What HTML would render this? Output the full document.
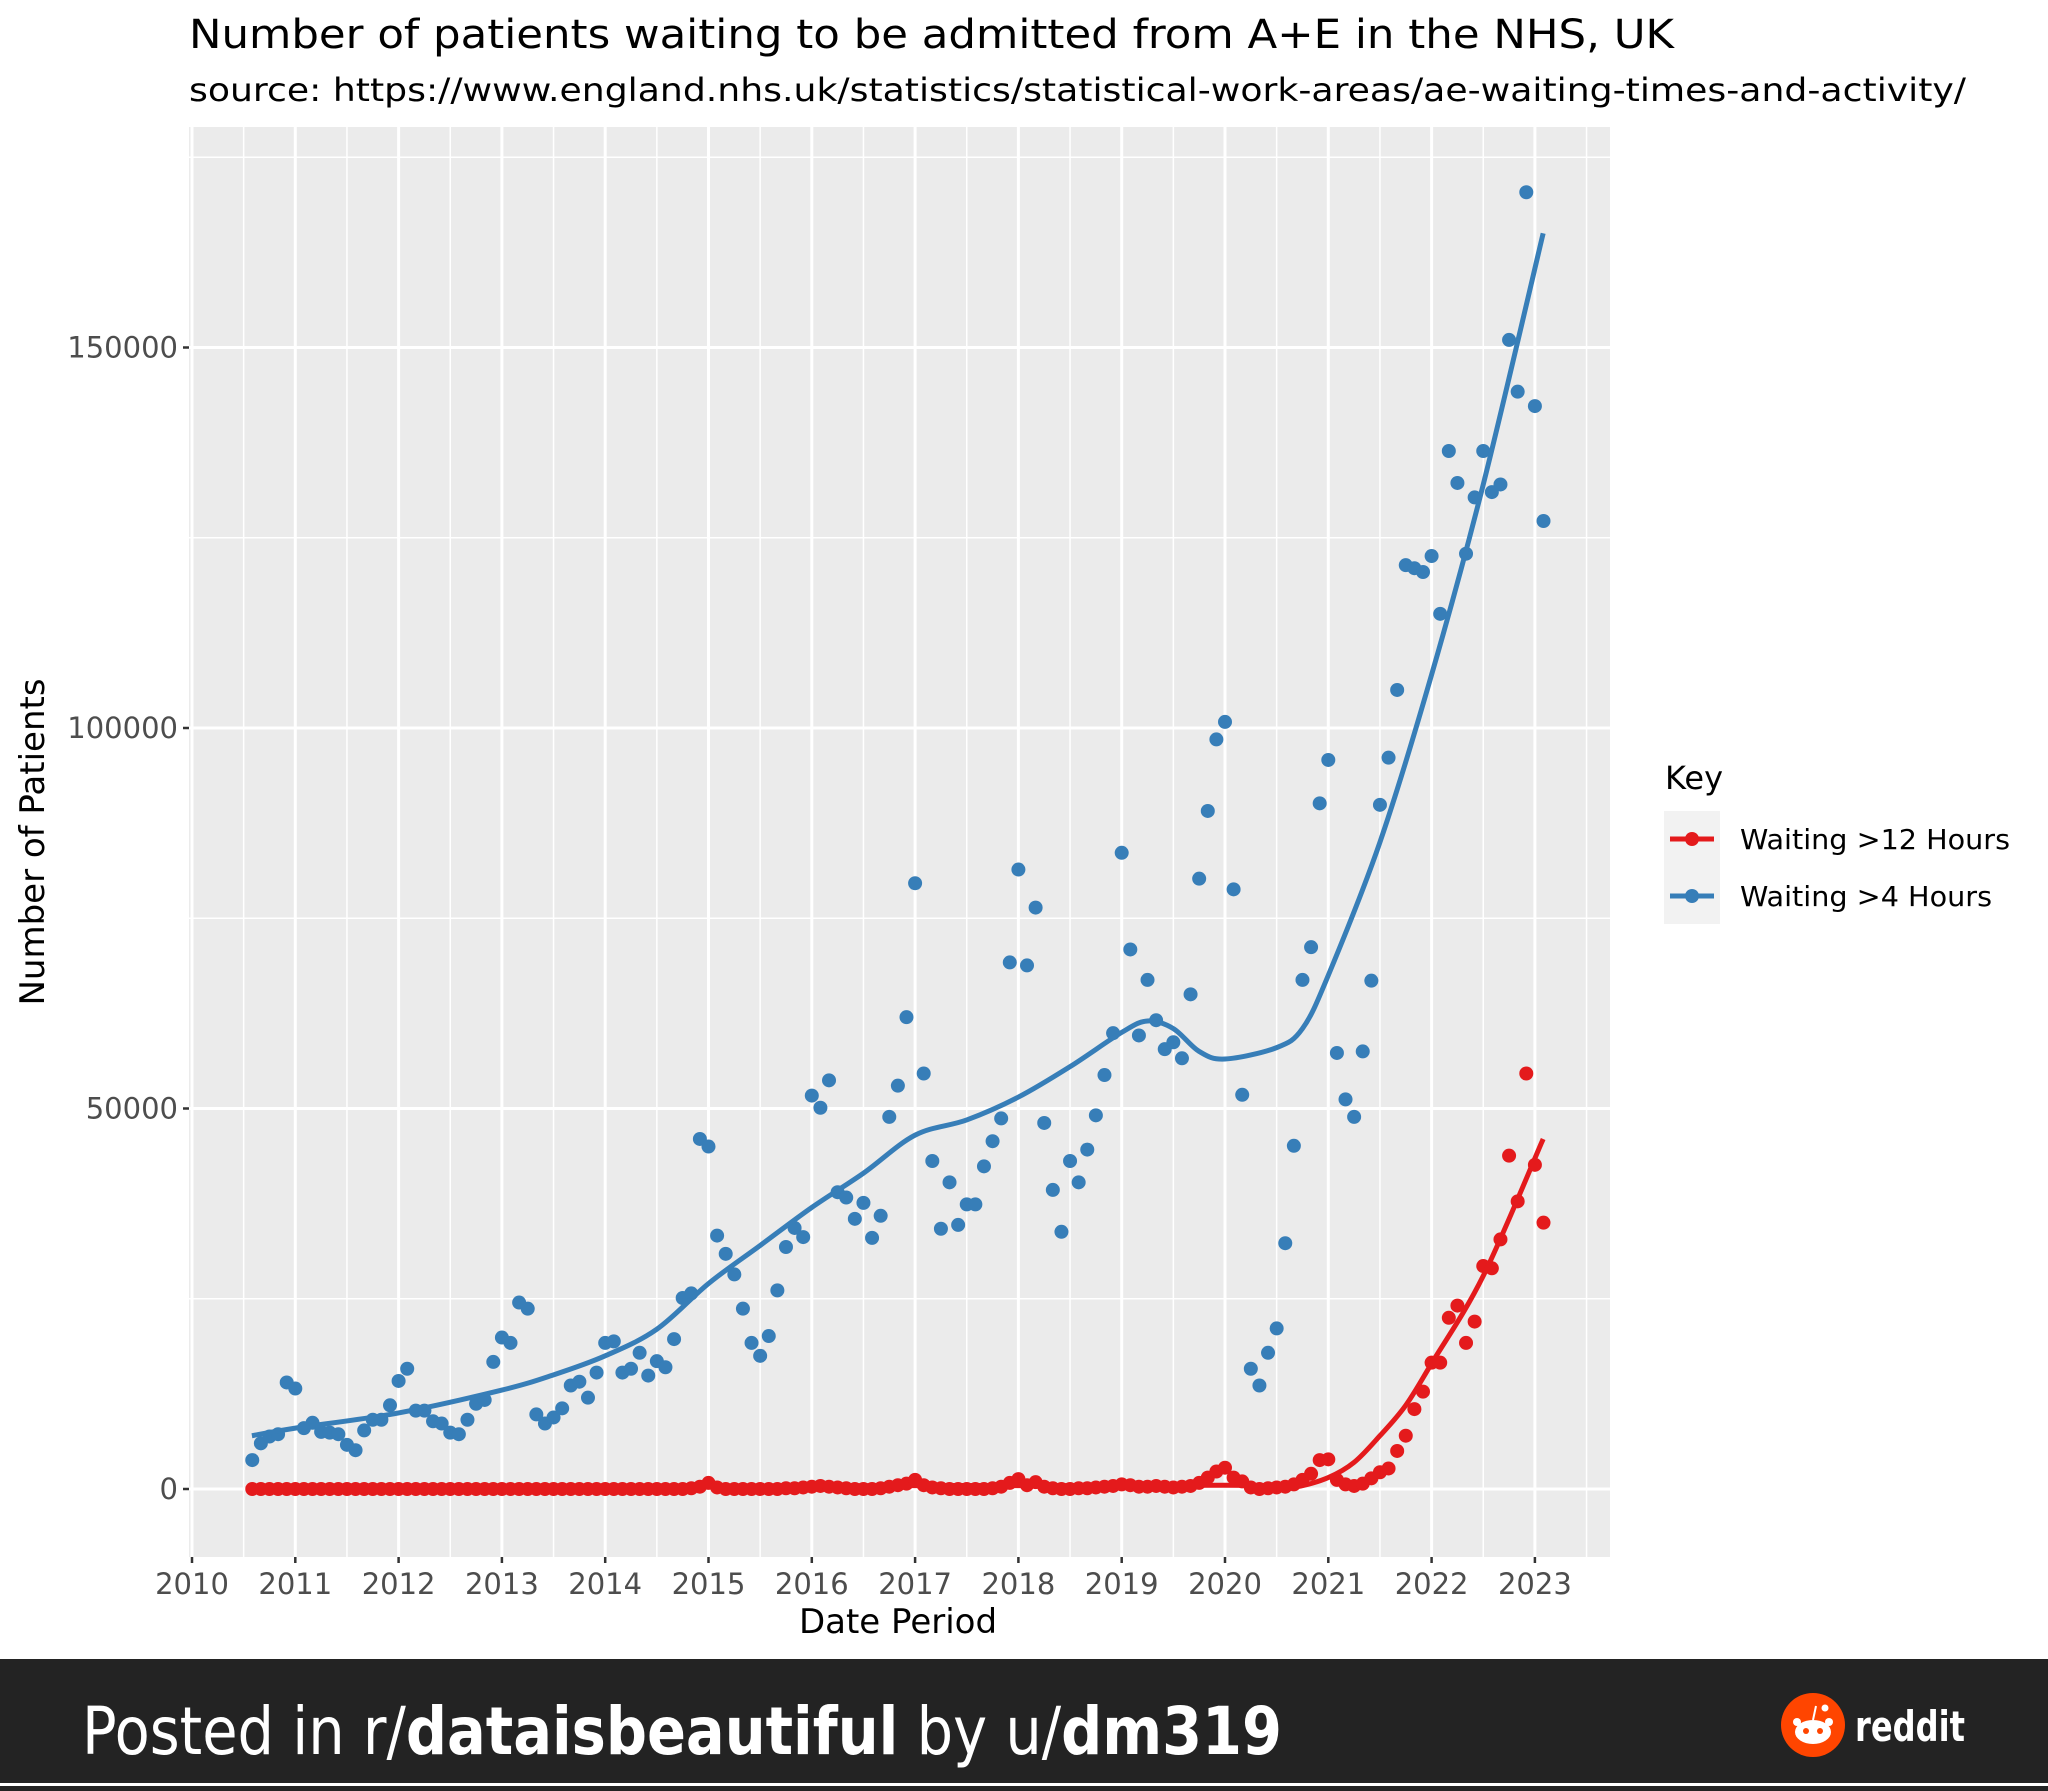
<!DOCTYPE html>
<html><head><meta charset="utf-8"><style>
html,body{margin:0;padding:0;background:#fff;}
svg{display:block;}
text{font-family:"DejaVu Sans","Liberation Sans",sans-serif;}
</style></head><body>
<svg id="chart" width="2048" height="1791" viewBox="0 0 2048 1791" xmlns="http://www.w3.org/2000/svg">
<rect x="0" y="0" width="2048" height="1791" fill="#ffffff"/>
<text x="189" y="48" font-size="40" fill="#000" textLength="1485" lengthAdjust="spacingAndGlyphs">Number of patients waiting to be admitted from A+E in the NHS, UK</text>
<text x="189" y="101" font-size="32" fill="#000" textLength="1777" lengthAdjust="spacingAndGlyphs">source: https://www.england.nhs.uk/statistics/statistical-work-areas/ae-waiting-times-and-activity/</text>
<rect x="189" y="127" width="1421" height="1430" fill="#ebebeb"/>
<g id="grid"></g>
<g id="axes"></g>
<g id="series"></g>
<text x="898" y="1633" font-size="34" text-anchor="middle" fill="#000">Date Period</text>
<text x="0" y="0" font-size="34" text-anchor="middle" fill="#000" transform="translate(44,842) rotate(-90)">Number of Patients</text>
<g>
<text x="1665" y="789" font-size="32" fill="#000">Key</text>
<rect x="1664" y="811" width="56" height="113" fill="#f2f2f2"/>
<g>
<line x1="1670" y1="839" x2="1714" y2="839" stroke="#e41a1c" stroke-width="5"/>
<circle cx="1692" cy="839" r="7" fill="#e41a1c"/>
<text x="1740" y="849" font-size="28" fill="#000" textLength="270" lengthAdjust="spacingAndGlyphs">Waiting &gt;12 Hours</text>
</g>
<g>
<line x1="1670" y1="896" x2="1714" y2="896" stroke="#377eb8" stroke-width="5"/>
<circle cx="1692" cy="896" r="7" fill="#377eb8"/>
<text x="1740" y="906" font-size="28" fill="#000" textLength="252" lengthAdjust="spacingAndGlyphs">Waiting &gt;4 Hours</text>
</g>
</g>
<g>
<rect x="0" y="1659" width="2048" height="132" fill="#232323"/>
<rect x="0" y="1783" width="2048" height="3" fill="#ffffff"/>
<text x="82" y="1754" font-size="66" fill="#fff" font-family="Liberation Sans, sans-serif" textLength="1200" lengthAdjust="spacingAndGlyphs">Posted in r/<tspan font-weight="bold">dataisbeautiful</tspan> by u/<tspan font-weight="bold">dm319</tspan></text>
<g>
<circle cx="1813" cy="1725" r="32" fill="#ff4500"/>
<ellipse cx="1813" cy="1732" rx="18" ry="12" fill="#fff"/>
<circle cx="1797" cy="1722" r="4" fill="#fff"/>
<circle cx="1829" cy="1722" r="4" fill="#fff"/>
<line x1="1813" y1="1720" x2="1816" y2="1706" stroke="#fff" stroke-width="2"/>
<circle cx="1825" cy="1708" r="3.5" fill="#fff"/>
<circle cx="1806" cy="1731" r="3" fill="#ff4500"/>
<circle cx="1820" cy="1731" r="3" fill="#ff4500"/>
<text x="1855" y="1741" font-size="42" font-weight="bold" fill="#fff" font-family="Liberation Sans, sans-serif" textLength="110" lengthAdjust="spacingAndGlyphs">reddit</text>
</g>
</g>
</svg>
<script>
// ---- data ----
const startYear = 2010, startMonth = 8; // first observation Aug 2010
const waiting4h = [3800,6000,6900,7200,14000,13200,8000,8700,7500,7400,7200,5800,5100,7700,9100,9100,11000,14200,15800,10300,10300,8900,8600,7400,7200,9100,11200,11700,16700,19900,19200,24500,23700,9800,8600,9400,10600,13600,14100,12000,15300,19200,19400,15300,15800,17900,14900,16800,16000,19700,25100,25700,46000,45000,33300,30900,28200,23700,19200,17500,20100,26100,31800,34300,33100,51700,50100,53700,39000,38300,35500,37600,33000,35900,48900,53000,62000,79600,54600,43100,34200,40300,34700,37400,37400,42400,45700,48700,69200,81400,68800,76400,48100,39300,33800,43100,40300,44600,49100,54400,59900,83600,70900,59600,66900,61600,57800,58700,56600,65000,80200,89100,98500,100800,78800,51800,15800,13600,17900,21100,32300,45100,66900,71200,90100,95800,57300,51200,48900,57500,66800,89900,96100,105000,121400,121000,120500,122600,115000,136400,132200,122900,130300,136400,131000,132000,151000,144200,170400,142300,127200];
const waiting12h = [0,0,0,0,0,0,0,0,0,0,0,0,0,0,0,0,0,0,0,0,0,0,0,0,0,0,0,0,0,0,0,0,0,0,0,0,0,0,0,0,0,0,0,0,0,0,0,0,0,0,0,100,300,800,200,0,0,0,0,0,0,0,100,100,200,300,400,300,200,100,0,0,0,100,300,500,700,1200,500,200,100,0,0,0,0,0,100,300,800,1300,500,900,300,100,0,0,100,100,200,300,400,600,500,300,300,400,300,200,300,400,800,1500,2300,2800,1500,1000,200,0,100,200,300,600,1200,2000,3800,3900,1200,600,400,700,1400,2200,2700,5000,7000,10500,12800,16600,16600,22500,24100,19200,22000,29300,29000,32800,43800,37800,54600,42600,35000];
const smooth4hYears = [2010.58,2011,2012,2013,2013.5,2014,2014.5,2015,2015.5,2016,2016.5,2017,2017.5,2018,2018.5,2019,2019.25,2019.5,2019.75,2020,2020.5,2020.75,2021,2021.5,2022,2022.5,2023.08];
const smooth4hValues = [7000,8000,10000,13000,15000,17500,21000,27000,32000,37000,41500,46500,48500,51500,55500,60000,61500,60500,57500,56500,58000,60500,67500,85000,107000,132000,165000];
const smooth12hYears = [2010.58,2012,2014,2015,2016,2017,2018,2019,2020,2020.5,2020.7,2021,2021.25,2021.5,2021.75,2022,2022.5,2023.08];
const smooth12hValues = [300,300,300,350,400,450,450,450,500,400,300,1500,3500,7000,11000,16500,28000,46000];
const yTicks = [0,50000,100000,150000];
const xTicks = [2010,2011,2012,2013,2014,2015,2016,2017,2018,2019,2020,2021,2022,2023];

// ---- scales ----
const PL=189, PR=1610, PT=127, PB=1557;
const xs = yr => 192 + (yr-2010)*103.3;
const ys = v => 1489 - v/50000*380.5;
const NS='http://www.w3.org/2000/svg';
function mk(tag, attrs, parent){const e=document.createElementNS(NS,tag);for(const k in attrs)e.setAttribute(k,attrs[k]);parent.appendChild(e);return e;}
const grid=document.getElementById('grid'), axes=document.getElementById('axes'), series=document.getElementById('series');

for(let i=0;i<yTicks.length;i++){const v=yTicks[i]+25000;const l=mk('line',{x1:PL,x2:PR,y1:ys(v),y2:ys(v),stroke:'#fff','stroke-width':1.5},grid);

}
mk('line',{x1:PL,x2:PR,y1:ys(-25000),y2:ys(-25000),stroke:'#fff','stroke-width':1.5},grid);
for(let i=0;i<xTicks.length;i++){const x=xs(xTicks[i]+0.5);if(x<PR){const l=mk('line',{x1:x,x2:x,y1:PT,y2:PB,stroke:'#fff','stroke-width':1.5},grid);

}}
yTicks.forEach(v=>{const y=ys(v);
const g=mk('line',{x1:PL,x2:PR,y1:y,y2:y,stroke:'#fff','stroke-width':3},grid);


mk('line',{x1:PL-6,x2:PL,y1:y,y2:y,stroke:'#333','stroke-width':2.5},axes);
const t=mk('text',{x:PL-11,y:y+10,'font-size':29,'text-anchor':'end',fill:'#4d4d4d'},axes);t.textContent=v;

});
{const y=ys(175000);mk('line',{x1:PL,x2:PR,y1:y,y2:y,stroke:'#fff','stroke-width':1.5},grid);}
xTicks.forEach(yr=>{const x=xs(yr);
const g=mk('line',{x1:x,x2:x,y1:PT,y2:PB,stroke:'#fff','stroke-width':3},grid);


mk('line',{x1:x,x2:x,y1:PB,y2:PB+6,stroke:'#333','stroke-width':2.5},axes);
const t=mk('text',{x:x,y:PB+37,'font-size':29,'text-anchor':'middle',fill:'#4d4d4d'},axes);t.textContent=yr;

});

function monthYear(i){return startYear+(startMonth-1+i)/12;}
function smoothPath(xa,ya){const p=xa.map((x,i)=>[xs(x),ys(ya[i])]);let d='M'+p[0][0]+','+p[0][1];
for(let i=0;i<p.length-1;i++){const p0=p[i-1]||p[i],p1=p[i],p2=p[i+1],p3=p[i+2]||p2;
d+=' C'+(p1[0]+(p2[0]-p0[0])/6)+','+(p1[1]+(p2[1]-p0[1])/6)+' '+(p2[0]-(p3[0]-p1[0])/6)+','+(p2[1]-(p3[1]-p1[1])/6)+' '+p2[0]+','+p2[1];}return d;}
function drawSeries(vals,sx,sy,color,name){
const g=mk('g',{},series);


vals.forEach((v,i)=>{const c=mk('circle',{cx:xs(monthYear(i)),cy:ys(v),r:7,fill:color},g);

});
const p=mk('path',{d:smoothPath(sx,sy),fill:'none',stroke:color,'stroke-width':5},g);

}
drawSeries(waiting4h,smooth4hYears,smooth4hValues,'#377eb8','waiting-4h');
drawSeries(waiting12h,smooth12hYears,smooth12hValues,'#e41a1c','waiting-12h');
</script>
</body></html>
